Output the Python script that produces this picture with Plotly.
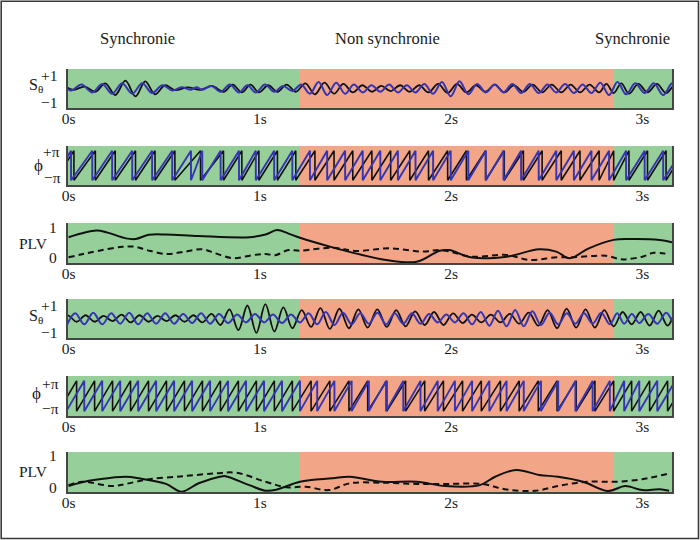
import math
import plotly.graph_objects as go

# ------------------------------------------------------------------ data
time_ticks = [0, 1, 2, 3]
time_tick_labels = ["0s", "1s", "2s", "3s"]
region_bounds = [0.0, 1.21, 2.852, 3.155]
region_names = ["Synchronie", "Non synchronie", "Synchronie"]
region_kinds = ["sync", "async", "sync"]
region_title_x = [0.358, 1.670, 2.946]

# ---- pair 1 : oscillation extrema (time in s, normalised amplitude)
black1_peak_t = [-0.021, 0.084, 0.192, 0.297, 0.401, 0.504, 0.623, 0.750, 0.858, 0.951, 1.044,
                 1.140, 1.238, 1.338, 1.437, 1.536, 1.635, 1.734, 1.833, 1.932, 2.031, 2.130,
                 2.229, 2.328, 2.427, 2.526, 2.625, 2.724, 2.812, 2.890, 2.979, 3.076, 3.173]
black1_peak_a = [0.10, 0.15, 0.40, 0.60, 0.55, 0.25, 0.08, 0.20, 0.30, 0.30, 0.25,
                 0.30, 0.40, 0.45, 0.35, 0.25, 0.20, 0.25, 0.25, 0.35, 0.35, 0.25,
                 0.30, 0.25, 0.30, 0.30, 0.30, 0.30, 0.35, 0.40, 0.35, 0.35, 0.30]
black1_trough_t = [-0.070, 0.028, 0.140, 0.244, 0.350, 0.452, 0.556, 0.690, 0.810, 0.906, 0.995,
                   1.092, 1.188, 1.288, 1.388, 1.486, 1.586, 1.684, 1.784, 1.882, 1.982, 2.080,
                   2.180, 2.278, 2.378, 2.476, 2.576, 2.674, 2.774, 2.850, 2.930, 3.027, 3.124,
                   3.221]
black1_trough_a = [0.10, 0.10, 0.25, 0.50, 0.60, 0.45, 0.12, 0.10, 0.25, 0.30, 0.30,
                   0.25, 0.25, 0.45, 0.40, 0.30, 0.25, 0.20, 0.25, 0.30, 0.35, 0.30,
                   0.25, 0.30, 0.25, 0.30, 0.30, 0.30, 0.30, 0.35, 0.40, 0.30, 0.35,
                   0.30]

blue1_peak_t = [-0.036, 0.068, 0.176, 0.280, 0.385, 0.490, 0.591, 0.670, 0.747, 0.843, 0.935,
                1.027, 1.122, 1.216, 1.307, 1.399, 1.492, 1.584, 1.676, 1.768, 1.860, 1.952,
                2.044, 2.136, 2.228, 2.320, 2.412, 2.504, 2.596, 2.688, 2.780, 2.870, 2.963,
                3.060, 3.157]
blue1_peak_a = [0.20, 0.30, 0.35, 0.40, 0.40, 0.25, 0.10, 0.10, 0.20, 0.30, 0.25,
                0.30, 0.20, 0.30, 0.50, 0.45, 0.30, 0.25, 0.30, 0.25, 0.35, 0.50,
                0.55, 0.35, 0.30, 0.35, 0.35, 0.30, 0.35, 0.30, 0.45, 0.50, 0.40,
                0.40, 0.40]
blue1_trough_t = [-0.084, 0.013, 0.124, 0.228, 0.333, 0.437, 0.542, 0.640, 0.699, 0.795, 0.891,
                  0.979, 1.075, 1.170, 1.262, 1.352, 1.446, 1.538, 1.630, 1.722, 1.814, 1.906,
                  1.998, 2.090, 2.182, 2.274, 2.366, 2.458, 2.550, 2.642, 2.734, 2.826, 2.915,
                  3.012, 3.109, 3.206]
blue1_trough_a = [0.20, 0.15, 0.30, 0.40, 0.40, 0.35, 0.15, 0.10, 0.10, 0.25, 0.30,
                  0.30, 0.25, 0.20, 0.40, 0.50, 0.40, 0.30, 0.25, 0.30, 0.30, 0.40,
                  0.60, 0.45, 0.30, 0.30, 0.35, 0.35, 0.30, 0.35, 0.35, 0.50, 0.45,
                  0.35, 0.50, 0.40]

# ---- pair 2 : oscillation extrema
black2_peak_t = [-0.005, 0.089, 0.183, 0.277, 0.371, 0.465, 0.559, 0.653, 0.747, 0.841, 0.935,
                 1.029, 1.123, 1.219, 1.317, 1.416, 1.515, 1.614, 1.713, 1.812, 1.911, 2.010,
                 2.109, 2.208, 2.307, 2.406, 2.505, 2.604, 2.703, 2.801, 2.897, 2.991, 3.085,
                 3.179]
black2_peak_a = [0.25, 0.25, 0.20, 0.30, 0.25, 0.20, 0.25, 0.25, 0.35, 0.70, 1.00,
                 1.10, 0.85, 0.65, 0.80, 0.75, 0.70, 0.70, 0.65, 0.55, 0.50, 0.40,
                 0.30, 0.30, 0.35, 0.45, 0.65, 0.75, 0.70, 0.65, 0.50, 0.50, 0.60,
                 0.50]
black2_trough_t = [-0.052, 0.042, 0.136, 0.230, 0.324, 0.418, 0.512, 0.606, 0.700, 0.794, 0.888,
                   0.982, 1.076, 1.170, 1.268, 1.366, 1.466, 1.564, 1.664, 1.762, 1.862, 1.960,
                   2.060, 2.158, 2.258, 2.356, 2.456, 2.554, 2.654, 2.752, 2.850, 2.944, 3.038,
                   3.132, 3.226]
black2_trough_a = [0.20, 0.25, 0.25, 0.20, 0.30, 0.25, 0.20, 0.25, 0.30, 0.50, 0.90,
                   1.10, 1.00, 0.75, 0.65, 0.80, 0.75, 0.70, 0.65, 0.60, 0.50, 0.50,
                   0.35, 0.30, 0.30, 0.40, 0.55, 0.75, 0.70, 0.70, 0.60, 0.45, 0.55,
                   0.55, 0.50]

blue2_peak_t = [0.035, 0.129, 0.223, 0.317, 0.411, 0.505, 0.599, 0.693, 0.787, 0.881, 0.975,
                1.069, 1.163, 1.255, 1.345, 1.435, 1.525, 1.615, 1.705, 1.795, 1.885, 1.975,
                2.065, 2.155, 2.245, 2.335, 2.425, 2.515, 2.605, 2.695, 2.785, 2.868, 2.945,
                3.031, 3.125, 3.219]
blue2_peak_a = [0.40, 0.45, 0.40, 0.45, 0.40, 0.40, 0.35, 0.40, 0.35, 0.30, 0.35,
                0.30, 0.30, 0.40, 0.50, 0.45, 0.40, 0.45, 0.40, 0.40, 0.35, 0.30,
                0.40, 0.50, 0.60, 0.65, 0.55, 0.45, 0.40, 0.40, 0.45, 0.40, 0.35,
                0.35, 0.45, 0.40]
blue2_trough_t = [-0.012, 0.082, 0.176, 0.270, 0.364, 0.458, 0.552, 0.646, 0.740, 0.834, 0.928,
                  1.022, 1.116, 1.210, 1.300, 1.390, 1.480, 1.570, 1.660, 1.750, 1.840, 1.930,
                  2.020, 2.110, 2.200, 2.290, 2.380, 2.470, 2.560, 2.650, 2.740, 2.830, 2.905,
                  2.984, 3.078, 3.172, 3.266]
blue2_trough_a = [0.60, 0.45, 0.45, 0.40, 0.45, 0.40, 0.40, 0.35, 0.40, 0.35, 0.30,
                  0.30, 0.35, 0.30, 0.45, 0.50, 0.45, 0.40, 0.45, 0.40, 0.40, 0.30,
                  0.30, 0.45, 0.55, 0.60, 0.60, 0.50, 0.45, 0.40, 0.40, 0.45, 0.40,
                  0.35, 0.40, 0.45, 0.40]

# ---- PLV curves
plv1_solid_t = [0.0, 0.145, 0.20, 0.30, 0.35, 0.42, 0.51, 0.68, 0.945, 1.03, 1.09, 1.15, 1.21,
                1.38, 1.50, 1.66, 1.82, 1.94, 1.99, 2.11, 2.29, 2.46, 2.55, 2.62, 2.72, 2.85,
                2.93, 3.09, 3.155]
plv1_solid_v = [0.66, 0.88, 0.82, 0.62, 0.60, 0.74, 0.75, 0.70, 0.66, 0.75, 0.90, 0.78, 0.64,
                0.32, 0.12, -0.10, -0.16, 0.21, 0.23, -0.02, 0.01, 0.26, 0.18, -0.04, 0.29, 0.57,
                0.60, 0.57, 0.49]
plv1_dash_t = [0.0, 0.07, 0.16, 0.28, 0.35, 0.41, 0.51, 0.61, 0.70, 0.77, 0.86, 0.96, 1.03, 1.08,
               1.15, 1.21, 1.38, 1.50, 1.68, 1.85, 1.95, 2.11, 2.29, 2.41, 2.55, 2.63, 2.81, 2.88,
               2.91, 3.00, 3.06, 3.14]
plv1_dash_v = [-0.01, 0.09, 0.21, 0.34, 0.34, 0.23, 0.10, 0.18, 0.26, 0.12, -0.04, 0.06, 0.10, 0.06,
               0.23, 0.21, 0.31, 0.20, 0.29, 0.18, 0.23, 0.01, 0.07, -0.10, -0.01, -0.01, 0.04, -0.07,
               -0.08, 0.01, 0.14, 0.09]
plv2_solid_t = [0.0, 0.06, 0.16, 0.30, 0.37, 0.51, 0.59, 0.68, 0.79, 0.82, 0.945, 1.03, 1.085, 1.21,
                1.38, 1.47, 1.64, 1.82, 1.97, 2.15, 2.23, 2.34, 2.46, 2.56, 2.69, 2.82, 2.91, 3.00,
                3.09, 3.14]
plv2_solid_v = [0.03, 0.14, 0.25, 0.33, 0.28, 0.10, -0.15, 0.12, 0.33, 0.35, 0.06, -0.12, -0.09, 0.17,
                0.28, 0.33, 0.17, 0.17, 0.03, 0.06, 0.33, 0.55, 0.39, 0.33, 0.17, -0.13, 0.03, -0.10,
                -0.07, -0.12]
plv2_dash_t = [0.0, 0.07, 0.23, 0.30, 0.42, 0.60, 0.77, 0.875, 1.03, 1.14, 1.24, 1.36, 1.47, 1.64,
               1.82, 1.99, 2.16, 2.29, 2.44, 2.58, 2.72, 2.86, 3.00, 3.14]
plv2_dash_v = [0.06, 0.17, 0.03, 0.10, 0.25, 0.35, 0.44, 0.46, 0.17, -0.01, 0.01, -0.10, 0.12, 0.14,
               0.10, 0.10, 0.10, -0.08, -0.12, 0.06, 0.17, 0.17, 0.25, 0.44]

# ------------------------------------------------------------------ style / layout
W, H = 700, 540
L, R, T, B = 68, 28, 69, 48
FONT = "Liberation Serif"
TXT = "#1a1a1a"
GREEN = "#97cf9b"
SALMON = "#f3a687"
BLUE = "#3434b4"
BLACK = "#111111"
SPINE = "#454545"
X_RANGE = [-0.003, 3.155]

# panel pixel extents (top, bottom)
panel_px = [(69, 108), (146, 185), (223, 263), (299, 338), (376, 416), (452, 492)]
y_ranges = [[-1.5, 1.5], [-4.15, 4.15], [-0.2, 1.133],
            [-1.5, 1.5], [-4.15, 4.15], [-0.161, 1.129]]

PW = W - L - R
PH = (H - B) - T


def px_x(px):
    return (px - L) / PW


def px_y(py):
    return ((H - B) - py) / PH


def merge_extrema(pt, pa, tt, ta):
    pts = [(t, a) for t, a in zip(pt, pa)] + [(t, -a) for t, a in zip(tt, ta)]
    pts.sort()
    return [p[0] for p in pts], [p[1] for p in pts]


def sawtooth(trough_t):
    # phase wraps from +pi to -pi at each trough of the signal
    xs, ys = [], []
    for a, b in zip(trough_t[:-1], trough_t[1:]):
        xs += [a, b]
        ys += [-math.pi, math.pi]
    return xs, ys


fig = go.Figure()


def ax(i):
    return ("x" if i == 1 else f"x{i}"), ("y" if i == 1 else f"y{i}")


def add_line(i, x, y, color, width, shape="spline", dash="solid"):
    xa, ya = ax(i)
    line = dict(color=color, width=width, shape=shape, dash=dash)
    if shape == "spline":
        line["smoothing"] = 1.0
    fig.add_trace(go.Scatter(x=x, y=y, mode="lines", xaxis=xa, yaxis=ya, line=line,
                             hoverinfo="skip", showlegend=False))


# pair 1
bx, by = merge_extrema(black1_peak_t, black1_peak_a, black1_trough_t, black1_trough_a)
ux, uy = merge_extrema(blue1_peak_t, blue1_peak_a, blue1_trough_t, blue1_trough_a)
add_line(1, bx, by, BLACK, 1.8)
add_line(1, ux, uy, BLUE, 2.0)
sx, sy = sawtooth(black1_trough_t)
add_line(2, sx, sy, BLACK, 1.6, shape="linear")
sx, sy = sawtooth(blue1_trough_t)
add_line(2, sx, sy, BLUE, 1.9, shape="linear")
add_line(3, plv1_solid_t, plv1_solid_v, BLACK, 2.0)
add_line(3, plv1_dash_t, plv1_dash_v, BLACK, 2.0, dash="6px,4px")

# pair 2
bx, by = merge_extrema(black2_peak_t, black2_peak_a, black2_trough_t, black2_trough_a)
ux, uy = merge_extrema(blue2_peak_t, blue2_peak_a, blue2_trough_t, blue2_trough_a)
add_line(4, bx, by, BLACK, 1.8)
add_line(4, ux, uy, BLUE, 2.0)
sx, sy = sawtooth(black2_trough_t)
add_line(5, sx, sy, BLACK, 1.6, shape="linear")
sx, sy = sawtooth(blue2_trough_t)
add_line(5, sx, sy, BLUE, 1.9, shape="linear")
add_line(6, plv2_solid_t, plv2_solid_v, BLACK, 2.0)
add_line(6, plv2_dash_t, plv2_dash_v, BLACK, 2.0, dash="6px,4px")

layout = {}
shapes = []
for i in range(1, 7):
    top, bot = panel_px[i - 1]
    xa, ya = ax(i)
    xname = "xaxis" if i == 1 else f"xaxis{i}"
    yname = "yaxis" if i == 1 else f"yaxis{i}"
    layout[xname] = dict(domain=[0, 1], range=X_RANGE, anchor=ya, tickvals=time_ticks,
                         ticktext=time_tick_labels, ticks="", showline=True, linecolor=SPINE,
                         linewidth=2, mirror=False, showgrid=False, zeroline=False,
                         ticklabelstandoff=-5,
                         tickfont=dict(family=FONT, size=15.5, color=TXT), fixedrange=True)
    layout[yname] = dict(domain=[px_y(bot), px_y(top)], range=y_ranges[i - 1], anchor=xa,
                         showline=True, linecolor=SPINE, linewidth=2, mirror=True,
                         showticklabels=False, ticks="", showgrid=False, zeroline=False,
                         fixedrange=True)
    for j, kind in enumerate(region_kinds):
        x0 = region_bounds[j] if j > 0 else X_RANGE[0]
        shapes.append(dict(type="rect", xref=xa, yref=f"{ya} domain", x0=x0,
                           x1=region_bounds[j + 1], y0=0, y1=1,
                           fillcolor=GREEN if kind == "sync" else SALMON,
                           line=dict(width=0), layer="below"))

# outer frame
shapes.append(dict(type="rect", xref="paper", yref="paper", x0=px_x(1.2), x1=px_x(698.5),
                   y0=px_y(538.5), y1=px_y(1.2), line=dict(color="#3a3a3a", width=1.6),
                   fillcolor="rgba(0,0,0,0)", layer="above"))

annotations = []


def lab(text, rx, cy, size=15.5):
    annotations.append(dict(text=text, xref="paper", yref="paper", x=px_x(rx), y=px_y(cy),
                            xanchor="right", yanchor="middle", showarrow=False,
                            font=dict(family=FONT, size=size, color=TXT)))


# left-hand labels (pixel positions of each label)
lab("+1", 60, 75.5); lab("S<sub>θ</sub>", 45, 86, 16); lab("−1", 60, 102)
lab("+π", 62, 151.5); lab("ϕ", 45, 165, 17); lab("−π", 62.5, 177)
lab("1", 59, 227.5); lab("PLV", 50, 243); lab("0", 59, 257.5)
lab("+1", 60, 305); lab("S<sub>θ</sub>", 45, 316.5, 16); lab("−1", 60, 332)
lab("+π", 60.5, 383); lab("ϕ", 42.5, 393.5, 17); lab("−π", 60.5, 408)
lab("1", 59, 455.5); lab("PLV", 50, 471); lab("0", 59, 487)

for name, xc in zip(region_names, region_title_x):
    annotations.append(dict(text=name, xref="x", yref="paper", x=xc, y=px_y(38),
                            xanchor="center", yanchor="middle", showarrow=False,
                            font=dict(family=FONT, size=16.5, color=TXT)))

fig.update_layout(width=W, height=H, margin=dict(l=L, r=R, t=T, b=B),
                  paper_bgcolor="white", plot_bgcolor="white", showlegend=False,
                  shapes=shapes, annotations=annotations, **layout)

fig.write_html("out.html", config={"displayModeBar": False, "staticPlot": True},
               post_script="document.body.style.margin='0';document.body.style.overflow='hidden';")
